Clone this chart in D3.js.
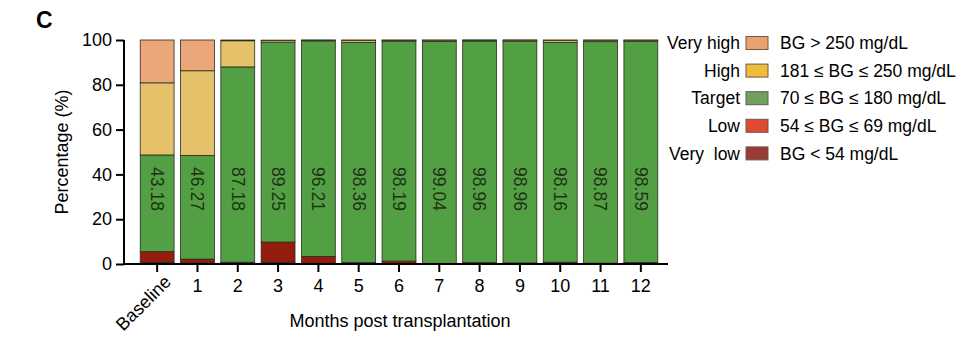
<!DOCTYPE html>
<html>
<head>
<meta charset="utf-8">
<script src="https://cdn.jsdelivr.net/npm/d3@7"></script>
<style>
  body { margin: 0; background: #fff; }
  svg  { font-family: "Liberation Sans", Arial, sans-serif; }
  .axis path, .axis line { stroke: #000; stroke-width: 2px; }
  .axis text { font-size: 18px; fill: #000; }
</style>
</head>
<body>
<div id="chart"></div>
<script>
// Categories and series (percent of time in each BG range)
var months    = ["Baseline", "1", "2", "3", "4", "5", "6", "7", "8", "9", "10", "11", "12"]
var veryLow   = [0.8, 0.5, 0.4, 0.8, 0.4, 0.2, 0.3, 0.1, 0.3, 0.2, 0.4, 0.2, 0.4]
var low       = [4.7, 1.7, 0.4, 9.0, 3.0, 0.4, 1.0, 0.2, 0.3, 0.3, 0.4, 0.2, 0.3]
var target    = [43.18, 46.27, 87.18, 89.25, 96.21, 98.36, 98.19, 99.04, 98.96, 98.96, 98.16, 98.87, 98.59]
var high      = [32.2, 37.8, 11.68, 0.7, 0.3, 0.9, 0.4, 0.56, 0.4, 0.5, 0.9, 0.63, 0.6]
var veryHigh  = [19.12, 13.73, 0.34, 0.2, 0.09, 0.14, 0.11, 0.1, 0.04, 0.04, 0.14, 0.1, 0.11]
var yTicks    = [0, 20, 40, 60, 80, 100]

var seriesNames  = ["Very low", "Low", "Target", "High", "Very high"]
var seriesRanges = ["BG < 54 mg/dL", "54 \u2264 BG \u2264 69 mg/dL", "70 \u2264 BG \u2264 180 mg/dL",
                    "181 \u2264 BG \u2264 250 mg/dL", "BG > 250 mg/dL"]
var barColours    = ["#8c1a0c", "#951d0e", "#53a044", "#e5c26a", "#eba67a"]
var legendColours = ["#9b3a34", "#e04a30", "#6fa060", "#f0bc3a", "#eba070"]

var W = 960, H = 341
var svg = d3.select("#chart").append("svg").attr("width", W).attr("height", H)

// Build stack table
var table = months.map(function (m, i) {
  return { month: m, "Very low": veryLow[i], "Low": low[i], "Target": target[i],
           "High": high[i], "Very high": veryHigh[i] }
})
var stacked = d3.stack().keys(seriesNames)(table)

// Scales
var x = d3.scaleBand().domain(months).range([137, 661]).paddingInner(0.16).paddingOuter(0.08)
var y = d3.scaleLinear().domain([0, 100]).range([264, 40])

// Bars
svg.append("g").selectAll("g")
   .data(stacked)
   .enter().append("g")
     .attr("fill", function (d, i) { return barColours[i] })
   .selectAll("rect")
   .data(function (d) { return d })
   .enter().append("rect")
     .attr("x", function (d) { return x(d.data.month) })
     .attr("width", x.bandwidth())
     .attr("y", function (d) { return y(d[1]) })
     .attr("height", function (d) { return y(d[0]) - y(d[1]) })
     .attr("stroke", "#2b2b1f")
     .attr("stroke-width", 0.8)

// Target value labels, rotated
svg.append("g").selectAll("text")
   .data(table)
   .enter().append("text")
     .attr("transform", function (d) {
       return "translate(" + (x(d.month) + x.bandwidth() / 2) + "," + y(33.5) + ") rotate(90)"
     })
     .attr("text-anchor", "middle")
     .attr("dy", "0.35em")
     .style("font-size", "17.5px")
     .style("fill", "#1d3314")
     .text(function (d) { return d3.format(".2f")(d.Target) })

// Axes
var yAxis = svg.append("g")
   .attr("class", "axis")
   .attr("transform", "translate(124,0)")
   .call(d3.axisLeft(y).tickValues(yTicks).tickSize(8).tickPadding(4))
yAxis.select(".domain").attr("d", "M0," + (y(100)) + "V" + (y(0)))

var xAxis = svg.append("g")
   .attr("class", "axis")
   .attr("transform", "translate(0,264)")
   .call(d3.axisBottom(x).tickSize(8).tickPadding(5))
xAxis.select(".domain").attr("d", "M123,0H668")
xAxis.selectAll(".tick text")
   .attr("dy", "0.85em")
xAxis.selectAll(".tick text")
   .filter(function (d) { return d === "Baseline" })
   .attr("text-anchor", "end")
   .attr("dy", "0.3em")
   .attr("transform", "translate(2,6) rotate(-45)")

// Axis titles
svg.append("text")
   .attr("transform", "translate(68,152) rotate(-90)")
   .attr("text-anchor", "middle")
   .style("font-size", "18px")
   .text("Percentage (%)")

svg.append("text")
   .attr("x", 400).attr("y", 327)
   .attr("text-anchor", "middle")
   .style("font-size", "18px")
   .text("Months post transplantation")

// Panel letter
svg.append("text")
   .attr("x", 36).attr("y", 28)
   .style("font-size", "23px")
   .style("font-weight", "bold")
   .text("C")

// Legend (top to bottom: very high ... very low)
var legend = svg.append("g")
var order  = [4, 3, 2, 1, 0]
order.forEach(function (k, j) {
  var cy = 43 + j * 27.6
  legend.append("text")
        .attr("x", 740).attr("y", cy).attr("dy", "0.35em")
        .attr("text-anchor", "end")
        .style("font-size", "17.5px")
        .style("white-space", "pre")
        .text(k === 0 ? "Very  low" : seriesNames[k])
  legend.append("rect")
        .attr("x", 746).attr("y", cy - 6.5)
        .attr("width", 22).attr("height", 13)
        .attr("fill", legendColours[k])
        .attr("stroke", "#6b5a4a").attr("stroke-width", 1)
  legend.append("text")
        .attr("x", 780).attr("y", cy).attr("dy", "0.35em")
        .style("font-size", "17.5px")
        .text(seriesRanges[k])
})
</script>
</body>
</html>
